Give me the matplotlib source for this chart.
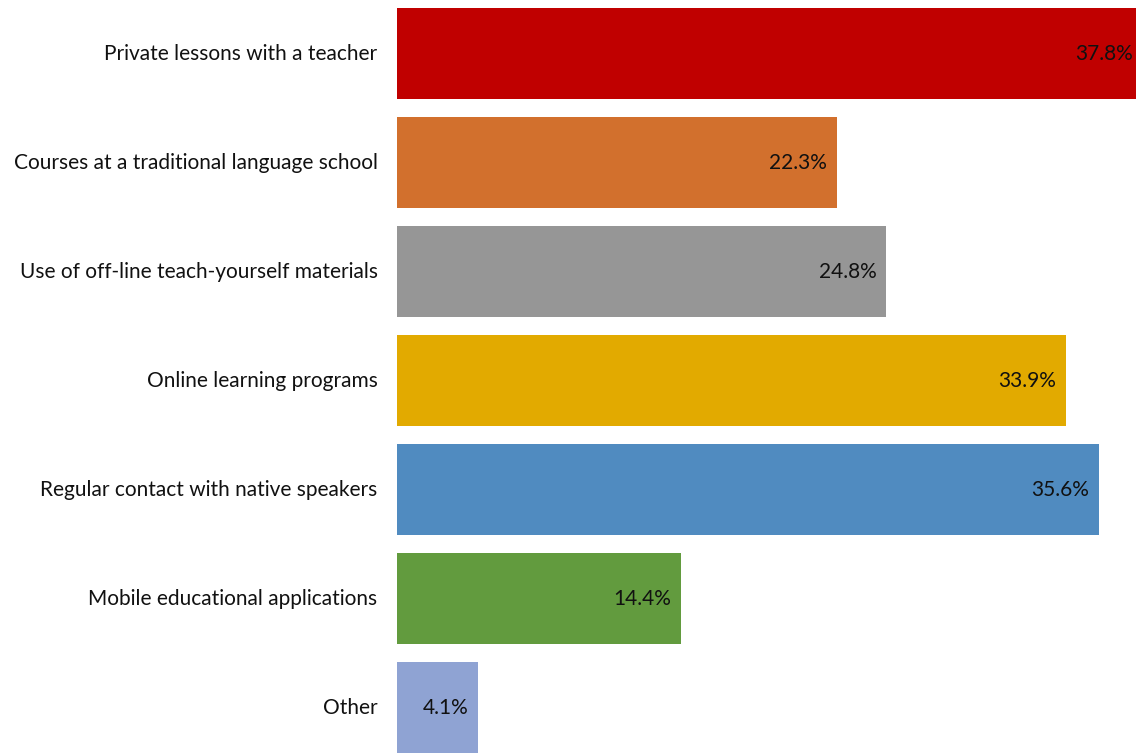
import matplotlib
matplotlib.use("Agg")
import matplotlib.pyplot as plt

plt.rcParams['font.family'] = ['Lato', 'DejaVu Sans']

categories = ["Private lessons with a teacher",
              "Courses at a traditional language school",
              "Use of off-line teach-yourself materials",
              "Online learning programs",
              "Regular contact with native speakers",
              "Mobile educational applications",
              "Other"]
values = [37.8, 22.3, 24.8, 33.9, 35.6, 14.4, 4.1]
colors = ["#C00000", "#D2702D", "#969696", "#E2AA00", "#508BC0", "#629B3E", "#8FA3D3"]

fig = plt.figure(figsize=(11.36, 7.53), dpi=100)
ax = fig.add_axes([397 / 1136, 0, 1 - 397 / 1136, 1])

pos = list(range(len(categories)))
ax.barh(pos, values, height=0.835, color=colors)
# the first bar runs past the right edge in the original
ax.set_xlim(0, 37.47)
ax.set_ylim(6.417, -0.491)

for i, v in enumerate(values):
    ax.annotate(f"{v}%", (v, i), xytext=(-7, 0), textcoords="offset points",
                ha="right", va="center", fontsize=15, color="#111111",
                annotation_clip=False)
    ax.annotate(categories[i], (0, i), xytext=(-14, 0), textcoords="offset points",
                ha="right", va="center", fontsize=15, color="#111111",
                annotation_clip=False)

ax.axis("off")
fig.savefig("out.png", dpi=100)
